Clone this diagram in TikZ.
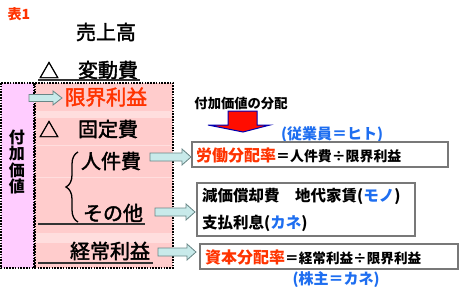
\documentclass[tikz,border=0pt]{standalone}
\usepackage{fontspec}
\setmainfont{Noto Sans CJK JP}
\newfontfamily\jpmed{Noto Sans CJK JP}[FakeBold=2]
\usetikzlibrary{decorations.pathreplacing}
\definecolor{jred}{RGB}{255,51,0}
\definecolor{jblue}{RGB}{30,110,240}
\definecolor{pinkfill}{RGB}{255,204,204}
\definecolor{pinkband}{RGB}{255,222,222}
\definecolor{violetfill}{RGB}{255,204,255}
\definecolor{arrowfill}{RGB}{200,234,234}
\definecolor{arrowline}{RGB}{105,135,135}
\definecolor{boxline}{RGB}{120,120,120}
\newcommand\cyanarrow[5]{% x1, x2, y, shaft half, head half
  \draw[cyanarr] (#1,#3-#4) -- (#2-9,#3-#4) -- (#2-9,#3-#5) -- (#2,#3) -- (#2-9,#3+#5) -- (#2-9,#3+#4) -- (#1,#3+#4) -- cycle;}
\begin{document}
\begin{tikzpicture}[x=1pt,y=-1pt,
  dotborder/.style={black,line width=1.6pt,dash pattern=on 1.6pt off 1.2pt},
  cyanarr/.style={fill=arrowfill,draw=arrowline,line width=0.8pt,line join=miter},
  wbox/.style={draw=boxline,fill=white,line width=1.1pt,inner sep=0pt},
  uline/.style={draw=black!80,line width=1.2pt},
  big/.style={inner sep=0pt,font=\jpmed\fontsize{20}{24}\selectfont},
  txt/.style={inner sep=0pt,anchor=west}]
\useasboundingbox (0,0) rectangle (460,289);
% left columns
\fill[violetfill] (1,83) rectangle (34,268);
\fill[pinkfill] (35,83) rectangle (173,268);
\fill[pinkband] (36,111) rectangle (172,118);
\fill[pinkband] (36,233) rectangle (172,243);
\draw[pinkband,line width=1pt] (36,145) -- (172,145);
\draw[pinkband,line width=1pt] (36,177) -- (172,177);
\draw[dotborder] (1,83) rectangle (34,268);
\draw[dotborder] (35,83) rectangle (173,268);
% title
\node[inner sep=0pt,text=jred,font=\bfseries\fontsize{14}{16}\selectfont] (title) at (19,14) {表1};
% left texts
\node[big] (uriage) at (106,32) {売上高};
\node[big] (tri1) at (49,70) {△};
\node[big] (hendo) at (108,70) {変動費};
\draw[uline] (38,80) -- (140,80);
\node[big,text=jred,font=\jpmed\fontsize{20.5}{24}\selectfont] (genkai) at (106,97) {限界利益};
\node[big] (tri2) at (49,129) {△};
\node[big] (kotei) at (108,129) {固定費};
\node[big] (jinken) at (111,161) {人件費};
\node[big] (sonota) at (113,213) {その他};
\draw[uline] (38,224) -- (145,224);
\node[big] (keijo) at (110,251) {経常利益};
\draw[uline] (38,263) -- (153,263);
\draw[decorate,decoration={brace,amplitude=12pt,aspect=0.5},line width=1.3pt] (78,222) -- (78,152);
\node[inner sep=0pt,align=center,font=\bfseries\fontsize{16}{16.5}\selectfont] (fuka) at (17,162) {付\\加\\価\\値};
% block arrows
\cyanarrow{29}{62}{98}{3.5}{7}
\cyanarrow{150}{191}{157}{4}{8}
\cyanarrow{155}{195}{212}{4}{8}
\cyanarrow{158}{196}{252}{4}{8}
% distribution header and down arrow
\node[inner sep=0pt,font=\bfseries\fontsize{13.3}{15}\selectfont] (bunpai) at (241,104) {付加価値の分配};
\draw[fill=red!90!orange,draw=blue!70!black,line width=1pt,line join=miter]
  (228,111) -- (257,111) -- (257,125) -- (270,125) -- (243,132) -- (208,125) -- (228,125) -- cycle;
\node[inner sep=0pt,text=jblue,font=\bfseries\fontsize{15}{17}\selectfont] (hito) at (332,135) {(従業員＝ヒト)};
% right boxes
\node[wbox,minimum width=256pt,minimum height=25pt] (rbox) at (320,154.5) {};
\node[txt] (rtext) at (196,155) {\textcolor{jred}{\bfseries\fontsize{16}{18}\selectfont 労働分配率}{\bfseries\fontsize{13.9}{16}\selectfont ＝人件費÷限界利益}};
\node[wbox,minimum width=218pt,minimum height=53pt] (mbox) at (306,209.5) {};
\node[txt,font=\bfseries\fontsize{15.5}{18}\selectfont] (mono) at (202,196) {減価償却費　地代家賃(\textcolor{jblue}{モノ})};
\node[txt,font=\bfseries\fontsize{15.5}{18}\selectfont] (kane) at (202,223) {支払利息(\textcolor{jblue}{カネ})};
\node[wbox,minimum width=258pt,minimum height=25pt] (sbox) at (329,256.5) {};
\node[txt] (stext) at (205,257) {\textcolor{jred}{\bfseries\fontsize{16}{18}\selectfont 資本分配率}{\bfseries\fontsize{13.6}{16}\selectfont ＝経常利益÷限界利益}};
\node[inner sep=0pt,text=jblue,font=\bfseries\fontsize{15}{17}\selectfont] (kabu) at (336,280) {(株主＝カネ)};
\end{tikzpicture}
\end{document}
